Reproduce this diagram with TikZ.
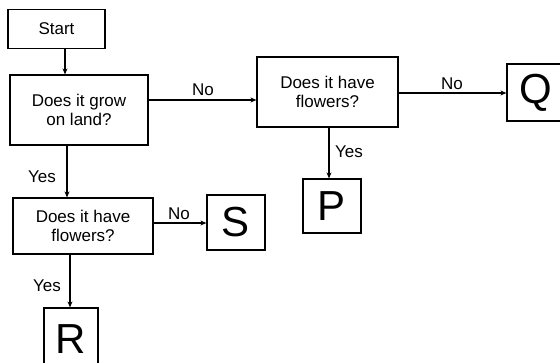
\documentclass[tikz,border=0pt]{standalone}
\usepackage{fontspec}
\setmainfont{Liberation Sans}
\usetikzlibrary{arrows.meta}
\begin{document}
\begin{tikzpicture}[x=1pt,y=-1pt,
  box/.style={draw,line width=1.2pt,rectangle,inner sep=0pt,align=center,
    font=\fontsize{17}{19}\selectfont},
  letter/.style={draw,line width=1.2pt,rectangle,inner sep=0pt,
    font=\fontsize{42}{42}\selectfont},
  lab/.style={inner sep=0pt,font=\fontsize{17}{19}\selectfont},
  arr/.style={line width=1.2pt,-{Stealth[length=6pt,width=5pt]}}]
\clip (0,0) rectangle (560,363);
\fill[white] (0,0) rectangle (560,363);
\node[box,minimum width=97pt,minimum height=39pt] (start) at (56.5,29) {Start};
\node[box,minimum width=138pt,minimum height=70pt] (grow) at (79,110) {Does it grow\\on land?};
\node[box,minimum width=141pt,minimum height=70pt] (fl1) at (327.5,92) {Does it have\\flowers?};
\node[letter,minimum width=58pt,minimum height=57pt] (Q) at (536,92.5) {Q};
\node[box,minimum width=140pt,minimum height=56pt] (fl2) at (83,226) {Does it have\\flowers?};
\node[letter,minimum width=58pt,minimum height=55pt] (S) at (236,222.5) {S};
\node[letter,minimum width=58pt,minimum height=54pt] (P) at (332,206) {P};
\node[letter,minimum width=54pt,minimum height=62pt] (R) at (71,339) {R};
\draw[arr] (start.south -| 65,0) -- (grow.north -| 65,0);
\draw[arr] (grow.east |- 0,100) -- (fl1.west |- 0,100);
\draw[arr] (fl1.east |- 0,93) -- (Q.west |- 0,93);
\draw[arr] (fl1.south -| 329,0) -- (P.north -| 329,0);
\draw[arr] (grow.south -| 67,0) -- (fl2.north -| 67,0);
\draw[arr] (fl2.east |- 0,223) -- (S.west |- 0,223);
\draw[arr] (fl2.south -| 70,0) -- (R.north -| 70,0);
\node[lab] (n1) at (203,90) {No};
\node[lab] (n2) at (452,84) {No};
\node[lab] (y1) at (349,152) {Yes};
\node[lab] (y2) at (42,177) {Yes};
\node[lab] (n3) at (179,214) {No};
\node[lab] (y3) at (47,286) {Yes};
\end{tikzpicture}
\end{document}
